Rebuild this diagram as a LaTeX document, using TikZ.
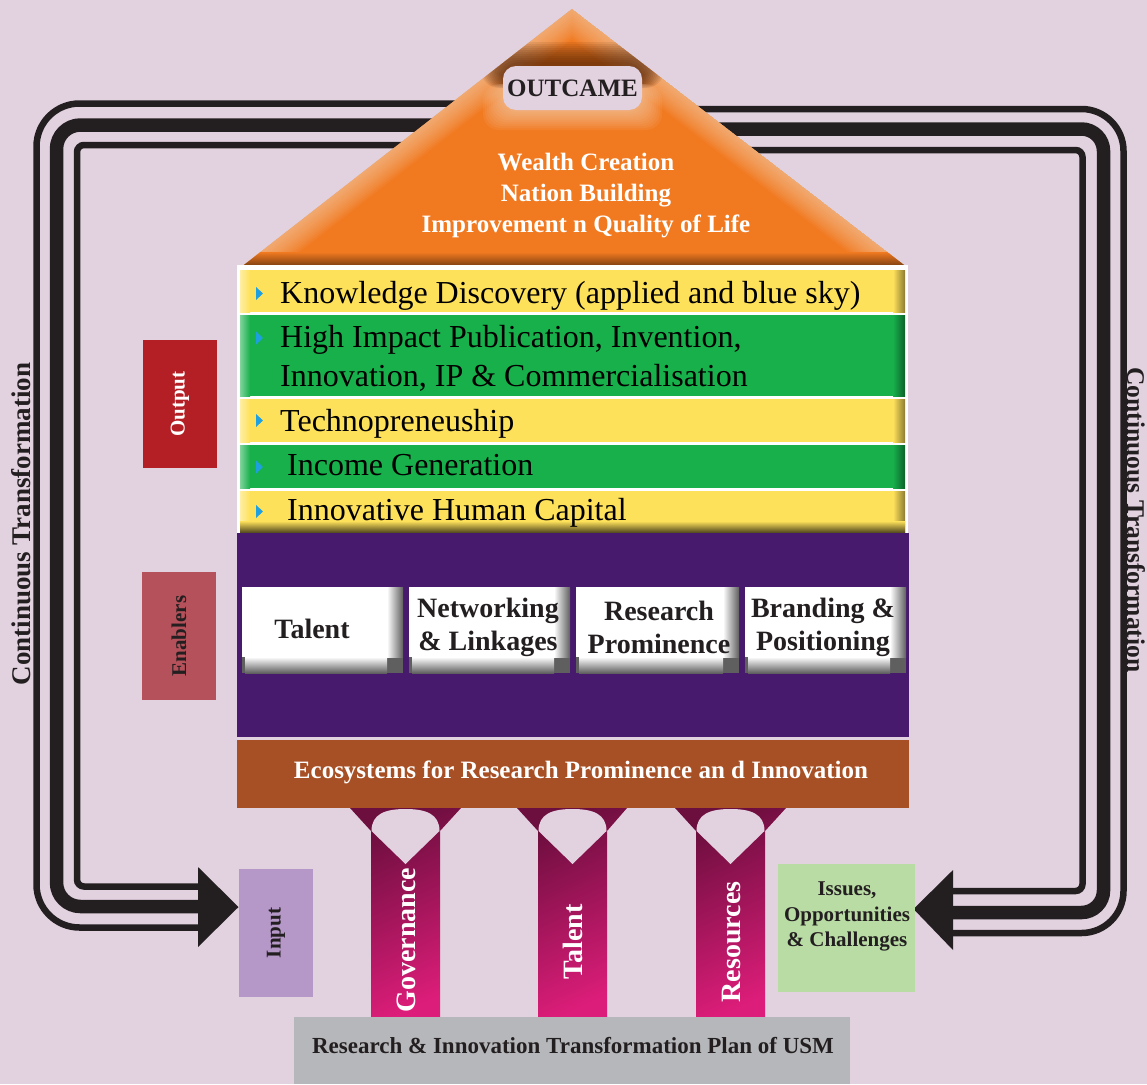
\documentclass[tikz,border=0pt]{standalone}
\usepackage{fontspec}
\setmainfont{Liberation Serif}
\definecolor{bgc}{HTML}{E2D1DF}
\definecolor{linec}{HTML}{231F20}
\definecolor{orng}{HTML}{F17A21}
\definecolor{peach}{HTML}{FCD9BC}
\definecolor{rowy}{HTML}{FEE15A}
\definecolor{rowg}{HTML}{17B04B}
\definecolor{purp}{HTML}{481A6E}
\definecolor{eco}{HTML}{A85025}
\definecolor{outred}{HTML}{B31F24}
\definecolor{enab}{HTML}{B5515A}
\definecolor{inp}{HTML}{B597C8}
\definecolor{iss}{HTML}{B9DCA5}
\definecolor{gbar}{HTML}{B6B7BA}
\definecolor{pdark}{HTML}{6C0E3E}
\definecolor{ppink}{HTML}{DC1D79}
\definecolor{bul}{HTML}{1E9FE0}
\definecolor{bevel}{HTML}{5F5F5F}
\definecolor{shadowbr}{HTML}{4A1E05}
\tikzset{
  thinline/.style={draw=linec, line width=6.5pt},
  thickline/.style={draw=linec, line width=13.5pt},
  rowtxt/.style={font=\fontsize{32}{39.7}\selectfont, text=black, anchor=base west, inner sep=0pt, align=left},
  roottxt/.style={font=\bfseries\fontsize{25}{31}\selectfont, text=white, align=center, inner sep=0pt},
  enabtxt/.style={font=\bfseries\fontsize{28}{33}\selectfont, text=linec, align=center, inner sep=0pt},
  pillartxt/.style={font=\bfseries\fontsize{28}{33}\selectfont, text=white, rotate=90, inner sep=0pt},
  sidetxt/.style={font=\bfseries\fontsize{21}{25.7}\selectfont, inner sep=0pt},
  contxt/.style={font=\bfseries\fontsize{27}{30}\selectfont, text=linec, inner sep=0pt},
}
\begin{document}
\begin{tikzpicture}[x=1pt,y=-1pt]
\useasboundingbox (0,0) rectangle (1147,1084);
\fill[bgc] (0,0) rectangle (1147,1084);

% ---- connector coordinates
\coordinate (LoS) at (480,103.5);
\coordinate (LmS) at (480,125);
\coordinate (LiS) at (480,145);
\coordinate (LoE) at (200,927.5);
\coordinate (LmE) at (200,906.5);
\coordinate (LiE) at (200,886.5);
\coordinate (LtipB) at (198,867);
\coordinate (Ltip) at (238.5,907);
\coordinate (LtipC) at (198,947);
\coordinate (RoS) at (680,109);
\coordinate (RmS) at (700,129);
\coordinate (RiS) at (730,150);
\coordinate (RoE) at (951,933);
\coordinate (RmE) at (951,912.5);
\coordinate (RiE) at (951,891);
\coordinate (RtipB) at (953,870);
\coordinate (Rtip) at (913.5,909);
\coordinate (RtipC) at (953,950);

% ---- left loop arrow
\draw[thinline, rounded corners=43pt] (LoS) -- (36.5,103.5) -- (36.5,927.5) -- (LoE);
\draw[thickline, rounded corners=24pt] (LmS) -- (56.5,125) -- (56.5,906.5) -- (LmE);
\draw[thinline, rounded corners=7pt] (LiS) -- (77,145) -- (77,886.5) -- (LiE);
\fill[linec] (LtipB) -- (Ltip) -- (LtipC) -- cycle;

% ---- right loop arrow
\draw[thinline, rounded corners=42pt] (RoS) -- (1123.5,109) -- (1123.5,933) -- (RoE);
\draw[thickline, rounded corners=22pt] (RmS) -- (1103.5,129) -- (1103.5,912.5) -- (RmE);
\draw[thinline, rounded corners=7pt] (RiS) -- (1082.5,150) -- (1082.5,891) -- (RiE);
\fill[linec] (RtipB) -- (Rtip) -- (RtipC) -- cycle;

% ---- roof
\begin{scope}
  \clip (240,268) -- (572,9) -- (908,268) -- cycle;
  \fill[orng] (240,268) -- (572,9) -- (908,268) -- cycle;
  \foreach \w in {4,8,...,48}
    \draw[peach, line width=\w pt, opacity=0.06] (240,268) -- (572,9) -- (908,268);
  \shade[top color=orng, bottom color=orng!45!black] (200,252) rectangle (950,268);
  % dark shadow above label
  \foreach \e in {2,4,...,22}
    \fill[shadowbr, opacity=0.09, rounded corners=18pt] (503-\e,64-\e) rectangle (642+\e,88);
  % light glow below label
  \foreach \e in {2,4,...,20}
    \fill[peach, opacity=0.08, rounded corners=16pt] (503-\e,84) rectangle (642+\e,110+\e);
\end{scope}
\node[fill=bgc, rounded corners=13pt, minimum width=139pt, minimum height=44pt, inner sep=0pt,
      font=\bfseries\fontsize{25}{28}\selectfont, text=linec] (outcame) at (572.5,88) {OUTCAME};
\node[roottxt, anchor=base] (roof) at (586,232)
  {Wealth Creation\\Nation Building\\Improvement n Quality of Life};

% ---- output rows
\fill[white] (237,265) rectangle (908,533);
\foreach \ya/\yb/\c in {270/312/rowy, 315/396/rowg, 399/442/rowy, 445/488/rowg, 491/532/rowy}{
  \fill[\c] (240,\ya) rectangle (905,\yb);
  \shade[left color=\c!55!white, right color=\c] (240,\ya) rectangle (250,\yb);
  \shade[left color=\c, right color=\c!55!black] (893,\ya) rectangle (905,\yb);
}
\shade[top color=rowy, bottom color=rowy!35!black] (240,521) rectangle (905,532);
\foreach \yy in {293.5, 338, 420.5, 467, 511.5}
  \fill[bul] (256,\yy-6.5) -- (263,\yy) -- (256,\yy+6.5) -- cycle;
\node[rowtxt] (r1) at (280,303) {Knowledge Discovery (applied and blue sky)};
\node[rowtxt] (r2) at (280,386.7) {High Impact Publication, Invention,\\Innovation, IP \& Commercialisation};
\node[rowtxt] (r3) at (280,431.5) {Technopreneuship};
\node[rowtxt] (r4) at (287,475.5) {Income Generation};
\node[rowtxt] (r5) at (287,520) {Innovative Human Capital};

% ---- enablers band
\fill[purp] (237,533) rectangle (909,737);
\foreach \xa/\xb in {242/403, 409/570, 576/739, 745/906}{
  \fill[bevel] (\xa,587) rectangle (\xb,673);
  \fill[white] (\xa,587) rectangle (\xb-16,673-16);
  \shade[left color=white, right color=bevel] (\xb-16,587) rectangle (\xb,673-16);
  \shade[top color=white, bottom color=bevel] (\xa+3,673-16) rectangle (\xb-16,673);
}
\node[enabtxt] (e1) at (312,629) {Talent};
\node[enabtxt] (e2) at (488,627) {Networking\\\& Linkages};
\node[enabtxt] (e3) at (659,627) {Research\\Prominence};
\node[enabtxt] (e4) at (823,627) {Branding \&\\Positioning};

% ---- ecosystem bar
\fill[eco] (237,740) rectangle (909,808);
\node[font=\bfseries\fontsize{25}{28}\selectfont, text=white, inner sep=0pt] (eco) at (581,772)
  {Ecosystems for Research Prominence an d Innovation};

% ---- pillars
\foreach \xa/\xb/\fa/\fb in {371/440/350/461, 538/607/517/627, 696/765/675/786}{
  \shade[top color=pdark, bottom color=ppink, shading angle=25]
    (\fa,808) -- (\fb,808) -- (\xb,831) -- (\xb,1017) -- (\xa,1017) -- (\xa,831) -- cycle;
  \fill[bgc] (\xa+0.5,831) .. controls (\xa+0.5,814) and (\xa+14,809) .. ({(\xa+\xb)/2},809)
     .. controls (\xb-14,809) and (\xb-0.5,814) .. (\xb-0.5,831) -- ({(\xa+\xb)/2},864) -- cycle;
}
\node[pillartxt] (p1) at (406,940) {Governance};
\node[pillartxt] (p2) at (573,942) {Talent};
\node[pillartxt] (p3) at (731,942) {Resources};

% ---- side boxes
\fill[outred] (143,340) rectangle (217,468);
\node[sidetxt, text=white, rotate=90] (out) at (180,404) {Output};
\fill[enab] (142,572) rectangle (216,700);
\node[sidetxt, text=linec, rotate=90] (enb) at (179,636) {Enablers};
\fill[inp] (239,869) rectangle (313,997);
\node[sidetxt, text=linec, rotate=90] (input) at (276,933) {Input};
\fill[iss] (778,864) rectangle (915,992);
\node[sidetxt, text=linec, align=center, anchor=base] (issues) at (847,946.7) {Issues,\\Opportunities\\\& Challenges};

% ---- bottom bar
\fill[gbar] (294,1017) rectangle (850,1084);
\node[font=\bfseries\fontsize{23}{26}\selectfont, text=linec, inner sep=0pt] (plan) at (573,1045)
  {Research \& Innovation Transformation Plan of USM};

% ---- side labels
\node[contxt, rotate=90] (cl) at (21,524) {Continuous Transformation};
\node[contxt, rotate=-90, font=\bfseries\fontsize{25.5}{30}\selectfont] (cr) at (1136,520) {Continuous Transformation};
\end{tikzpicture}
\end{document}
